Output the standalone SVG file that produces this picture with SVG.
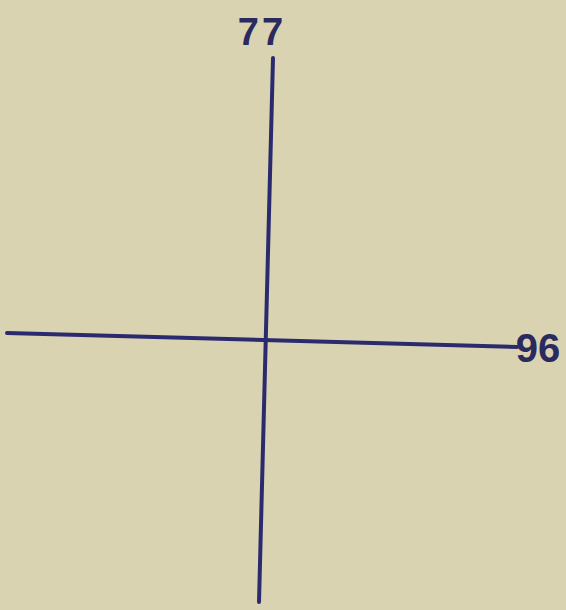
<svg xmlns="http://www.w3.org/2000/svg" width="566" height="610" viewBox="0 0 566 610">
<style>
.ax{stroke:#2b2a6e;stroke-width:4;stroke-linecap:round;fill:none}
.lb{font-family:"Liberation Sans",Arial,sans-serif;font-weight:bold;fill:#2a2a5e}
</style>
<rect width="566" height="610" fill="#d9d3b1"/>
<g id="connectors">
<line class="ax" x1="273" y1="58" x2="259" y2="602"/>
<line class="ax" x1="7" y1="333" x2="517" y2="347"/>
</g>
<g id="label-77"><text class="lb" x="262" y="45" font-size="38" text-anchor="middle" letter-spacing="3">77</text></g>
<g id="label-96"><text class="lb" x="538" y="362" font-size="40" text-anchor="middle">96</text></g>
</svg>
